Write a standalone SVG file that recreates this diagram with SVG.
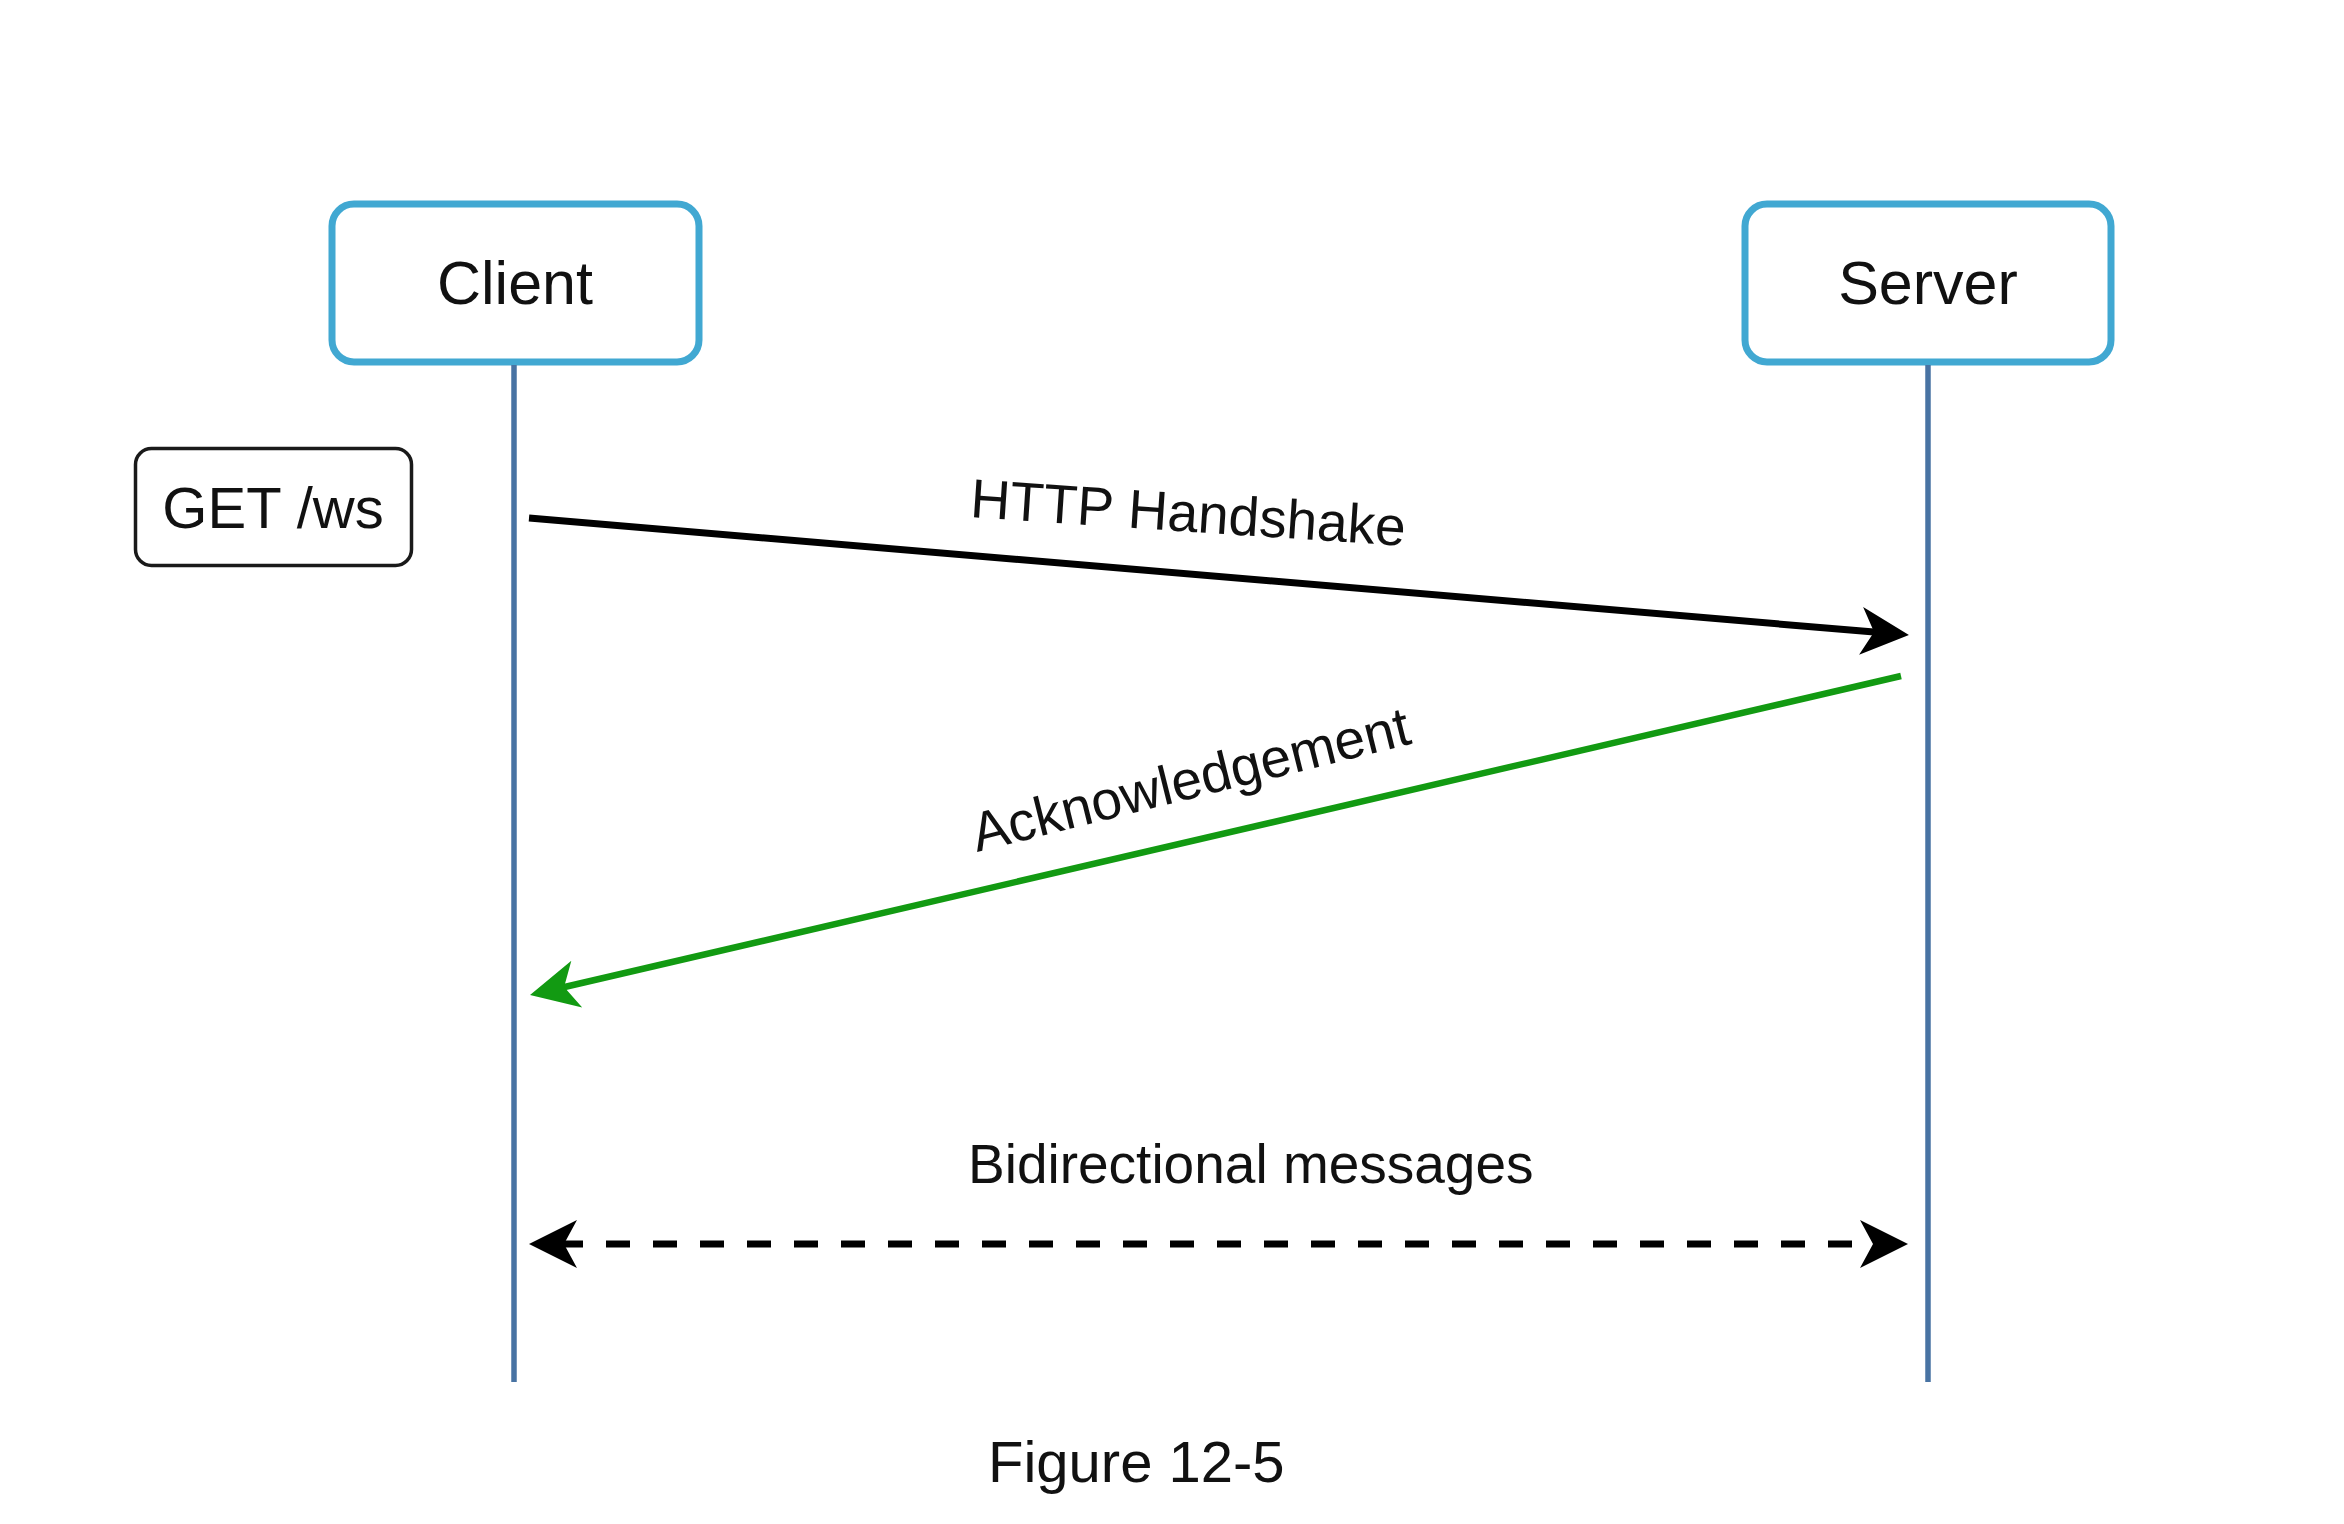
<svg xmlns="http://www.w3.org/2000/svg" width="2344" height="1524" viewBox="0 0 2344 1524">
  <style>
    .actor { fill: #ffffff; stroke: #41a8d2; stroke-width: 7; }
    .note { fill: #ffffff; stroke: #1a1a1a; stroke-width: 3.5; }
    .life { stroke: #4873a3; stroke-width: 5.5; fill: none; }
    .lbl { font-family: "Liberation Sans", Arial, Helvetica, sans-serif; fill: #111111; }
    .msg { fill: none; stroke-linecap: butt; }
  </style>
  <defs>
    <marker id="ahBlack" viewBox="-50 -25 50 50" refX="-20" refY="0" markerWidth="50" markerHeight="50" markerUnits="userSpaceOnUse" orient="auto-start-reverse">
      <path d="M0,0 L-48,-24 L-35,0 L-48,24 Z" fill="#000000"/>
    </marker>
    <marker id="ahGreen" viewBox="-50 -25 50 50" refX="-20" refY="0" markerWidth="50" markerHeight="50" markerUnits="userSpaceOnUse" orient="auto">
      <path d="M0,0 L-48,-24 L-35,0 L-48,24 Z" fill="#129a12"/>
    </marker>
  </defs>
  <rect x="0" y="0" width="2344" height="1524" fill="#ffffff"/>

  <g id="client">
    <rect class="actor" x="332" y="204" width="367" height="158" rx="22" ry="22"/>
    <text class="lbl" x="515" y="304" font-size="61" text-anchor="middle">Client</text>
  </g>
  <g id="server">
    <rect class="actor" x="1745" y="204" width="366" height="158" rx="22" ry="22"/>
    <text class="lbl" x="1928" y="304" font-size="61" text-anchor="middle">Server</text>
  </g>
  <g id="get-ws">
    <rect class="note" x="135.5" y="448.5" width="276" height="117" rx="16" ry="16"/>
    <text class="lbl" x="273" y="528" font-size="58" text-anchor="middle">GET /ws</text>
  </g>

  <g id="lifelines">
    <line class="life" x1="514" y1="365" x2="514" y2="1382"/>
    <line class="life" x1="1928" y1="365" x2="1928" y2="1382"/>
  </g>

  <g id="connectors">
    <path class="msg" d="M529,518 L1889,633.3" stroke="#000000" stroke-width="7" marker-end="url(#ahBlack)"/>
    <path class="msg" d="M1901,676 L549.5,990.5" stroke="#129a12" stroke-width="6.5" marker-end="url(#ahGreen)"/>
    <path class="msg" d="M549,1244 L1888,1244" stroke="#000000" stroke-width="7" stroke-dasharray="24 23" stroke-dashoffset="-10" marker-start="url(#ahBlack)" marker-end="url(#ahBlack)"/>
  </g>

  <g id="labels">
    <text class="lbl" x="1187" y="531.5" font-size="55" text-anchor="middle" transform="rotate(3.8 1187 531.5)">HTTP Handshake</text>
    <text class="lbl" x="1195" y="797.7" font-size="55" text-anchor="middle" transform="rotate(-14 1195 797.7)">Acknowledgement</text>
    <text class="lbl" x="968" y="1183" font-size="55">Bidirectional messages</text>
    <text class="lbl" x="988" y="1482" font-size="58">Figure 12-5</text>
  </g>
</svg>
